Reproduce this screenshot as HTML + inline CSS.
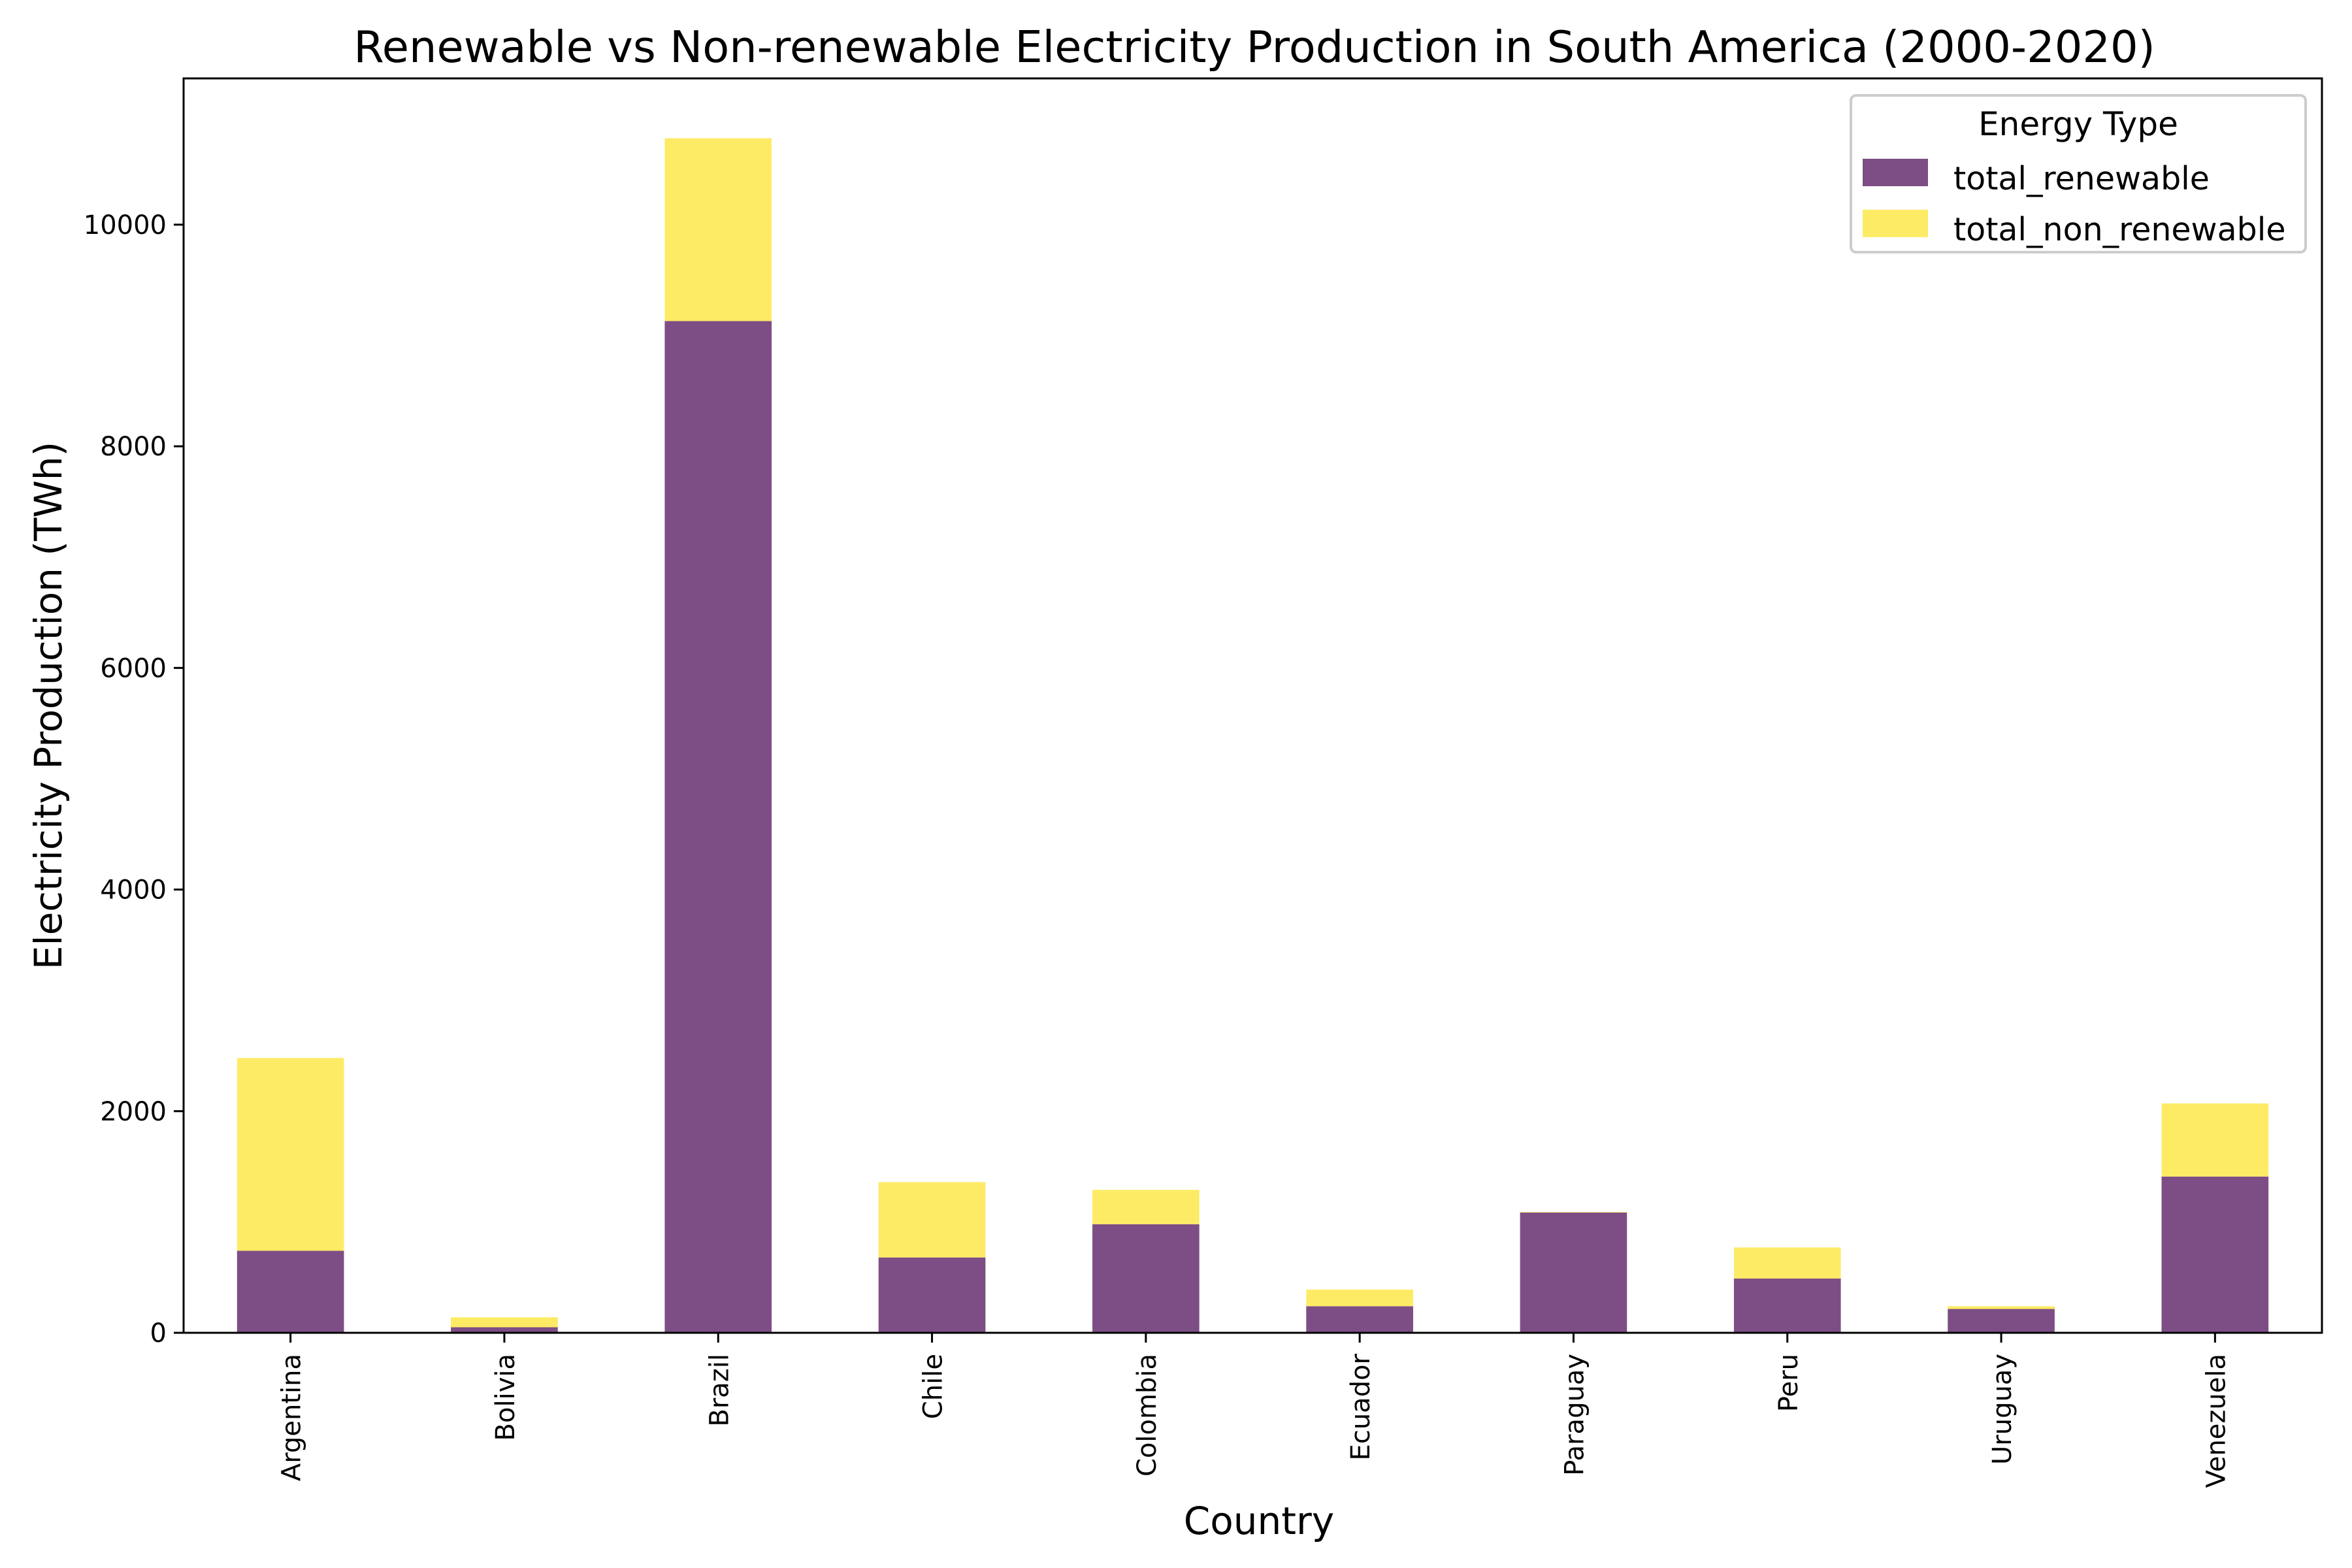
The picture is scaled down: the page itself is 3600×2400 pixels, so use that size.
<!DOCTYPE html>
<html><head><meta charset="utf-8"><style>
html,body{margin:0;padding:0;background:#fff;}
svg{display:block;font-family:"DejaVu Sans","Liberation Sans",sans-serif;}
</style></head><body>
<svg id="chart" width="3600" height="2400" viewBox="0 0 3600 2400">
<rect x="0" y="0" width="3600" height="2400" fill="#fff"/>
<text x="1920" y="95" font-size="67" text-anchor="middle">Renewable vs Non-renewable Electricity Production in South America (2000-2020)</text>
<g id="bars"></g>
<g id="axes"></g>
<text x="1927" y="2348" font-size="58" text-anchor="middle">Country</text>
<text transform="translate(94,1080) rotate(-90)" font-size="58" text-anchor="middle">Electricity Production (TWh)</text>
<g>
<rect x="2833" y="146" width="696" height="240" rx="8" fill="#fff" stroke="#ccc" stroke-width="4"/>
<text x="3181" y="207" font-size="50" text-anchor="middle">Energy Type</text>
<rect x="2851" y="243" width="100" height="42" fill="#7d4e85"/>
<text x="2990" y="290" font-size="49">total_renewable</text>
<rect x="2851" y="321" width="100" height="42" fill="#fdeb66"/>
<text x="2990" y="368" font-size="49">total_non_renewable</text>
</g>
</svg>
<script>
const categories = ["Argentina","Bolivia","Brazil","Chile","Colombia","Ecuador","Paraguay","Peru","Uruguay","Venezuela"];
const renewable = [740, 50, 9130, 680, 980, 240, 1085, 490, 215, 1410];
const nonRenewable = [1740, 90, 1650, 680, 310, 150, 5, 280, 25, 660];
const yTicks = [0, 2000, 4000, 6000, 8000, 10000];

const NS = "http://www.w3.org/2000/svg";
const L = 281, R = 3554, T = 120, B = 2040, YMAX = 11320;
const band = (R - L) / categories.length;
const xc = i => L + band * (i + 0.5);
const y = v => B - (v / YMAX) * (B - T);
const bw = band * 0.5;
const bars = document.getElementById("bars");
const axes = document.getElementById("axes");
function mk(tag, attrs, parent){const e=document.createElementNS(NS,tag);for(const k in attrs)e.setAttribute(k,attrs[k]);parent.appendChild(e);return e;}

categories.forEach((c, i) => {
  const r = mk("rect", {x: xc(i)-bw/2, y: y(renewable[i]), width: bw, height: y(0)-y(renewable[i]), fill: "#7d4e85"}, bars);
  
  
  const top = renewable[i] + nonRenewable[i];
  const n = mk("rect", {x: xc(i)-bw/2, y: y(top), width: bw, height: y(renewable[i])-y(top), fill: "#fdeb66"}, bars);
  
  
  const t = mk("line", {x1: xc(i), x2: xc(i), y1: B, y2: B+15, stroke: "#000", "stroke-width": 3}, axes);
  
  
  const lb = mk("text", {transform: `translate(${xc(i)+15},${B+32}) rotate(-90)`, "font-size": 40, "text-anchor": "end"}, axes);
  lb.textContent = c;
  
  
});

yTicks.forEach(v => {
  const t = mk("line", {x1: L-15, x2: L, y1: y(v), y2: y(v), stroke: "#000", "stroke-width": 3}, axes);
  
  
  const lb = mk("text", {x: L-26, y: y(v)+14, "font-size": 40, "text-anchor": "end"}, axes);
  lb.textContent = v;
  
  
});

const frame = mk("rect", {x: L, y: T, width: R-L, height: B-T, fill: "none", stroke: "#000", "stroke-width": 3}, axes);


</script>
</body></html>
